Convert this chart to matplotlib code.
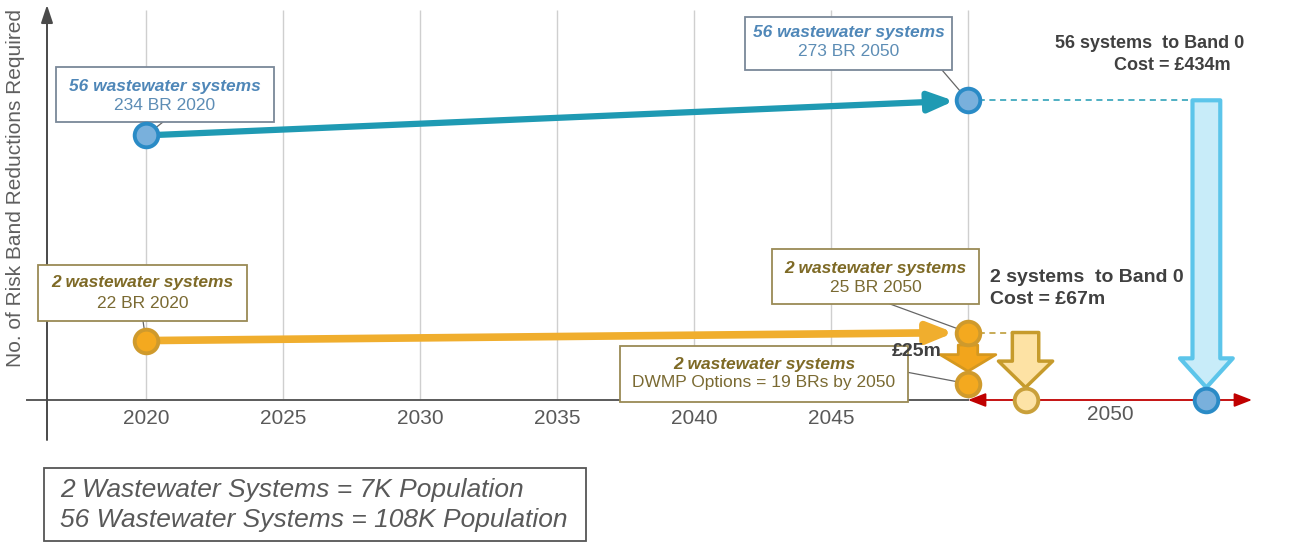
import numpy as np
import matplotlib
matplotlib.use('Agg')
import matplotlib.pyplot as plt
from matplotlib.patches import Rectangle, FancyArrowPatch

plt.rcParams['font.family'] = ['Liberation Sans', 'DejaVu Sans']

# risk band reductions (BR) required
years = [2020, 2050]
br_56 = [234, 273]          # 56 wastewater systems
br_2 = [22, 25]             # 2 wastewater systems
dwmp_brs = 19               # BRs removed by DWMP options by 2050
br_2_after = br_2[1] - dwmp_brs
band0 = 0
cost_dwmp = 25              # £m
cost_2 = 67                 # £m
cost_56 = 434               # £m
tick_years = [2020, 2025, 2030, 2035, 2040, 2045]
pop_2 = '7K'
pop_56 = '108K'

W, H = 1293, 545
fig = plt.figure(figsize=(W / 100, H / 100), dpi=100)
ax = fig.add_axes([0, 0, 1, 1])
ax.axis('off')

# y scale: small BR counts stretched so both groups are readable
BREAK, GAIN = 30, 3.0


def fwd(v):
    v = np.asarray(v, float)
    return np.where(v <= BREAK, v * GAIN, BREAK * GAIN + (v - BREAK))


def inv(s):
    s = np.asarray(s, float)
    return np.where(s <= BREAK * GAIN, s / GAIN, BREAK + (s - BREAK * GAIN))


ax.set_yscale('function', functions=(fwd, inv))
base_px, px_per_unit = 400, 0.9
ax.set_ylim(float(inv(-(H - base_px) / px_per_unit)), float(inv(base_px / px_per_unit)))

px_per_year = 27.4
x_lo = 2020 - 146 / px_per_year
ax.set_xlim(x_lo, x_lo + W / px_per_year)


def fx(px):
    return px / W


def fy(py):
    return 1 - py / H


# 2050 delivery band and where each group lands in it
band_end = x_lo + 1252 / px_per_year
x_2_band0 = 2052.1
x_56_band0 = 2058.7

# grid
ax.vlines(tick_years + [years[1]], fy(400), fy(10), transform=ax.get_xaxis_transform(),
          color='#cfcfcf', lw=1, zorder=0)

# axes
ax.plot([x_lo + 27 / px_per_year, years[1]], [0, 0], color='#5a5a5a', lw=1.4, zorder=1)
ax.annotate('', xy=(fx(47), fy(5)), xytext=(fx(47), fy(440)), xycoords='axes fraction',
            arrowprops=dict(arrowstyle='-|>,head_length=0.9,head_width=0.3', mutation_scale=12,
                            color='#4a4a4a', lw=1.4, shrinkA=0, shrinkB=0))
ax.annotate('', xy=(band_end, 0), xytext=(years[1], 0),
            arrowprops=dict(arrowstyle='<|-|>,head_length=0.9,head_width=0.35', mutation_scale=12,
                            color='#c00000', lw=1.3, shrinkA=0, shrinkB=0), zorder=2)

for yr in tick_years:
    ax.text(yr, fy(418), str(yr), transform=ax.get_xaxis_transform(), ha='center', va='center',
            fontsize=15, color='#595959')
ax.text((years[1] + band_end) / 2, fy(414), str(years[1]), transform=ax.get_xaxis_transform(),
        ha='center', va='center', fontsize=15, color='#595959')

ax.text(fx(16), fy(188), 'No. of Risk Band Reductions Required', rotation=90, ha='center',
        va='center', fontsize=15, color='#5f5f5f', transform=ax.transAxes)

# trend lines 2020 -> 2050
teal, gold = '#1f9ab3', '#f0ae2e'
ax.annotate('', xy=(years[1], br_56[1]), xytext=(years[0], br_56[0]),
            arrowprops=dict(arrowstyle='-|>,head_length=1.5,head_width=0.6', mutation_scale=10,
                            lw=4.5, color=teal, shrinkA=0, shrinkB=10), zorder=3)
ax.annotate('', xy=(years[1], br_2[1]), xytext=(years[0], br_2[0]),
            arrowprops=dict(arrowstyle='-|>,head_length=1.5,head_width=0.6', mutation_scale=10,
                            lw=5.5, color=gold, shrinkA=0, shrinkB=10), zorder=3)

# dashed carry-over into the 2050 band
ax.plot([years[1], x_56_band0], [br_56[1], br_56[1]], ls=(0, (4, 3)), lw=1.1, color=teal, zorder=2)
ax.plot([years[1], x_2_band0], [br_2[1], br_2[1]], ls=(0, (4, 3)), lw=1.1, color='#b8952a', zorder=2)

# reduction arrows
ax.add_patch(FancyArrowPatch((x_56_band0, br_56[1]), (x_56_band0, band0),
                             arrowstyle='simple,head_length=21,head_width=38,tail_width=20',
                             fc='#c8ecf9', ec='#5cc5ea', lw=3, shrinkA=0, shrinkB=9, zorder=4))
ax.add_patch(FancyArrowPatch((x_2_band0, br_2[1]), (x_2_band0, band0),
                             arrowstyle='simple,head_length=19,head_width=39,tail_width=19',
                             fc='#fde2a4', ec='#c69b2c', lw=2.5, shrinkA=0, shrinkB=9, zorder=4))
ax.add_patch(FancyArrowPatch((years[1], br_2[1]), (years[1], br_2_after),
                             arrowstyle='simple,head_length=12,head_width=40,tail_width=14',
                             fc='#f2a51c', ec='#d5981f', lw=2, shrinkA=9, shrinkB=9, zorder=4))

# markers
blue_mk = dict(marker='o', ms=17, mfc='#79b0dc', mec='#2a8bc6', mew=2.8, ls='none', zorder=7)
gold_mk = dict(marker='o', ms=17, mfc='#f4a91f', mec='#cf9a2c', mew=2.8, ls='none', zorder=7)
ax.plot(years, br_56, **blue_mk)
ax.plot([x_56_band0], [band0], **blue_mk)
ax.plot(years, br_2, **gold_mk)
ax.plot([years[1]], [br_2_after], **gold_mk)
ax.plot([x_2_band0], [band0], **dict(gold_mk, mfc='#fde3a6', mec='#c9a03a'))


def callout(box, lines, edge, colors, target):
    x0, y0, x1, y1 = box
    ax.add_patch(Rectangle((fx(x0), fy(y1)), (x1 - x0) / W, (y1 - y0) / H, transform=ax.transAxes,
                           fc='white', ec=edge, lw=1.3, zorder=5))
    cx = fx((x0 + x1) / 2)
    (t1, py1), (t2, py2) = lines
    ax.text(cx, fy(py1), t1, ha='center', va='center', fontsize=12.5, fontweight='bold',
            style='italic', color=colors[0], transform=ax.transAxes, zorder=6)
    ax.text(cx, fy(py2), t2, ha='center', va='center', fontsize=12.5, color=colors[1],
            transform=ax.transAxes, zorder=6)
    (lx, ly), xy = target
    ax.annotate('', xy=xy, xytext=(fx(lx), fy(ly)), textcoords='axes fraction',
                arrowprops=dict(arrowstyle='-', color='#666666', lw=0.9, shrinkA=0, shrinkB=0),
                zorder=4)


blue_txt = ('#4f87b8', '#5d8db5')
gold_txt = ('#7e6a26', '#7a6a32')
callout((56, 67, 274, 122), [('56 wastewater systems', 86), (f'{br_56[0]} BR {years[0]}', 105)],
        '#7a8898', blue_txt, ((163, 122), (years[0], br_56[0])))
callout((745, 17, 952, 70), [('56 wastewater systems', 32), (f'{br_56[1]} BR {years[1]}', 52)],
        '#7a8898', blue_txt, ((942, 70), (years[1], br_56[1])))
callout((38, 265, 247, 321), [('2 wastewater systems', 283), (f'{br_2[0]} BR {years[0]}', 303)],
        '#9a8a55', gold_txt, ((143, 321), (years[0], br_2[0])))
callout((772, 249, 979, 304), [('2 wastewater systems', 268), (f'{br_2[1]} BR {years[1]}', 287)],
        '#9a8a55', gold_txt, ((890, 304), (years[1], br_2[1])))
callout((620, 346, 908, 402), [('2 wastewater systems', 364),
                              (f'DWMP Options = {dwmp_brs} BRs by {years[1]}', 383)],
        '#9a8a55', gold_txt, ((906, 372), (years[1], br_2_after)))

# cost labels
dark = '#404040'
ax.text(fx(942), fy(352), f'£{cost_dwmp}m', ha='right', va='center', fontsize=14,
        fontweight='bold', color=dark, transform=ax.transAxes, zorder=8)
ax.text(fx(990), fy(278), '2 systems  to Band 0', ha='left', va='center', fontsize=14,
        fontweight='bold', color=dark, transform=ax.transAxes)
ax.text(fx(990), fy(300), f'Cost = £{cost_2}m', ha='left', va='center', fontsize=14,
        fontweight='bold', color=dark, transform=ax.transAxes)
ax.text(fx(1150), fy(43), '56 systems  to Band 0', ha='center', va='center', fontsize=13,
        fontweight='bold', color=dark, transform=ax.transAxes)
ax.text(fx(1172), fy(66), f'Cost = £{cost_56}m', ha='center', va='center', fontsize=13,
        fontweight='bold', color=dark, transform=ax.transAxes)

# population key
ax.add_patch(Rectangle((fx(44), fy(541)), 542 / W, 73 / H, transform=ax.transAxes,
                       fc='white', ec='#555555', lw=1.3, zorder=5))
ax.text(fx(60), fy(490), f'2 Wastewater Systems = {pop_2} Population', ha='left', va='center',
        fontsize=19, style='italic', color='#595959', transform=ax.transAxes, zorder=6)
ax.text(fx(60), fy(520), f'56 Wastewater Systems = {pop_56} Population', ha='left', va='center',
        fontsize=19, style='italic', color='#595959', transform=ax.transAxes, zorder=6)

fig.savefig('out.png', dpi=100, facecolor='white')
